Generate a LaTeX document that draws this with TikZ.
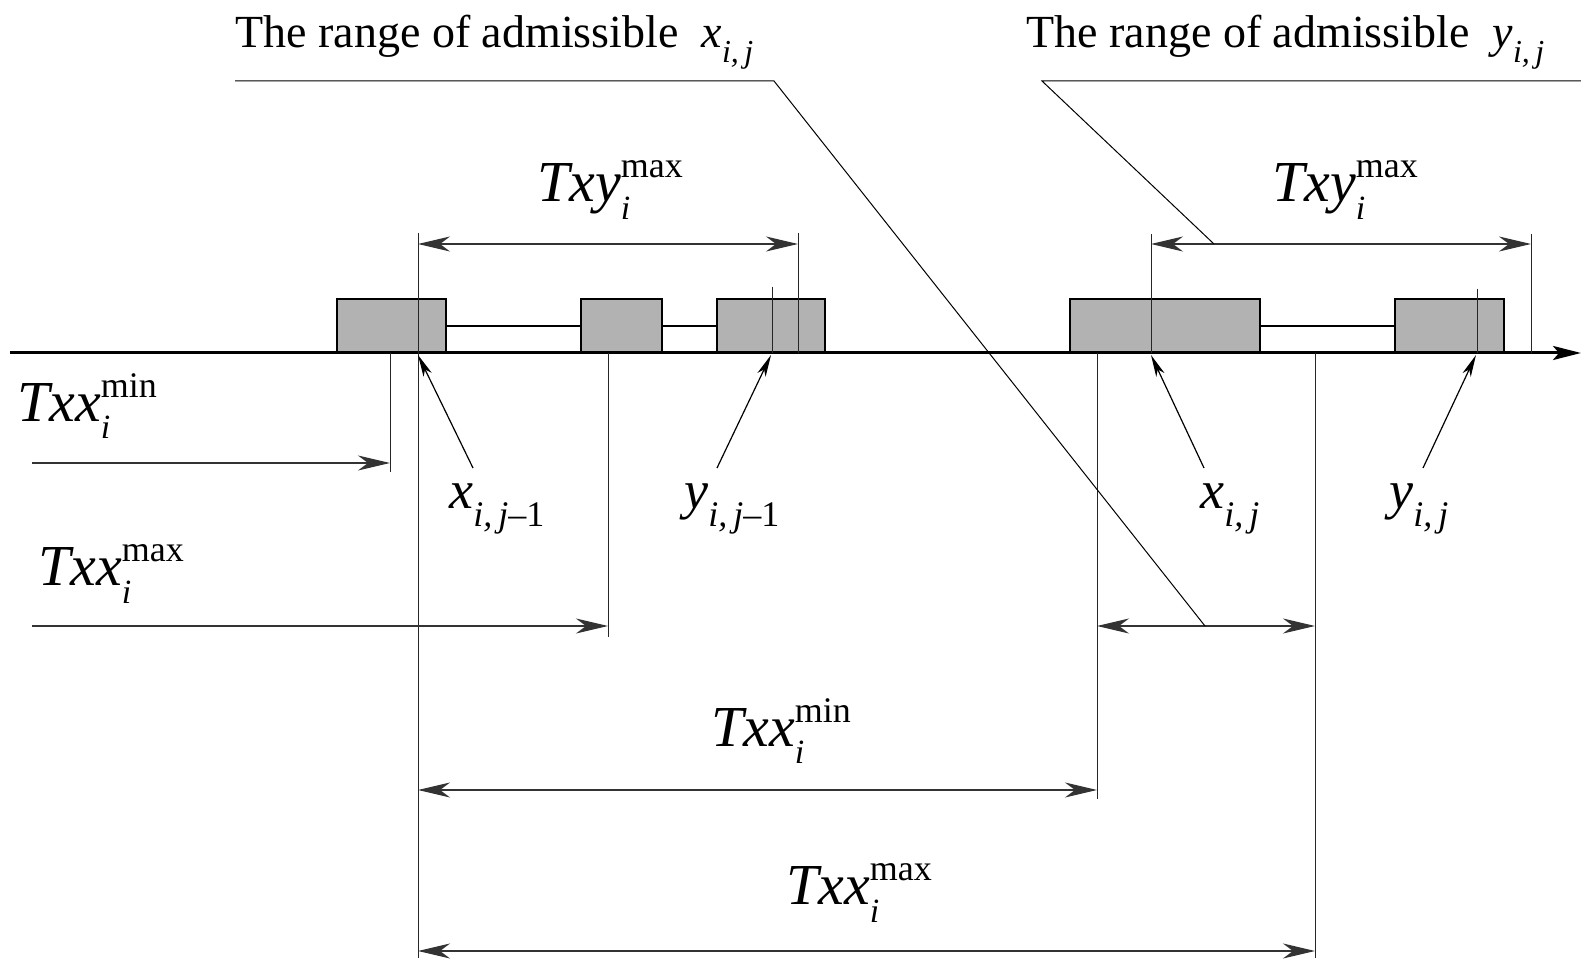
\documentclass[tikz,border=0pt]{standalone}
\usepackage{fontspec}
\setmainfont{Liberation Serif}
\usetikzlibrary{arrows.meta}
\newcommand{\Tsym}[2]{\textit{#1}\rlap{\raisebox{-0.3em}{\fontsize{17}{17}\selectfont\itshape i}}\raisebox{0.42em}{\fontsize{18}{18}\selectfont #2}}
\newcommand{\Psym}[2]{\textit{#1}\raisebox{-0.32em}{\fontsize{18}{18}\selectfont\itshape i,\,j\upshape #2}}
\newcommand{\Rsym}[1]{\textit{#1}\raisebox{-0.32em}{\fontsize{16}{16}\selectfont\itshape i,\,j}}
\begin{document}
\begin{tikzpicture}[x=0.5pt,y=-0.5pt,
  thinln/.style={line width=0.5pt, draw=black!85},
  axisln/.style={line width=1.5pt, -{Stealth[length=14pt,width=7pt,inset=3pt]}},
  blk/.style={draw, line width=1pt, fill=gray!60},
  link/.style={line width=1.1pt},
  dimarr/.style={line width=1pt, draw=black!80, {Stealth[length=16pt,width=7.5pt,inset=5pt]}-{Stealth[length=16pt,width=7.5pt,inset=5pt]}},
  onearr/.style={line width=1pt, draw=black!80, -{Stealth[length=16pt,width=7.5pt,inset=5pt]}},
  ptr/.style={line width=0.6pt, -{Stealth[length=11pt,width=4.5pt,inset=3pt]}},
  lead/.style={line width=0.5pt},
  title/.style={font=\fontsize{23}{28}\selectfont, inner sep=0pt, anchor=base west},
  dlab/.style={font=\fontsize{29}{33}\selectfont, inner sep=0pt},
  plab/.style={font=\fontsize{27}{31}\selectfont, inner sep=0pt, anchor=west},
]
\useasboundingbox (0,0) rectangle (1581,961);
\fill[white] (0,0) rectangle (1581,961);

% titles
\node[title] (tx) at (235,48) {The range of admissible\ \ \Rsym{x}};
\node[title] (ty) at (1026,48) {The range of admissible\ \ \Rsym{y}};

% blocks
\draw[link] (446,326) -- (581,326);
\draw[link] (662,326) -- (717,326);
\draw[link] (1260,326) -- (1395,326);
\node[blk, inner sep=0pt, minimum width=54.5pt, minimum height=27pt] (b1) at (391.5,326) {};
\node[blk, inner sep=0pt, minimum width=40.5pt, minimum height=27pt] (b2) at (621.5,326) {};
\node[blk, inner sep=0pt, minimum width=54pt, minimum height=27pt] (b3) at (771,326) {};
\node[blk, inner sep=0pt, minimum width=95pt, minimum height=27pt] (b4) at (1165,326) {};
\node[blk, inner sep=0pt, minimum width=54.5pt, minimum height=27pt] (b5) at (1449.5,326) {};

% axis
\coordinate (a0) at (10,353);
\coordinate (a1) at (1581,353);
\draw[axisln] (a0) -- (a1);

% extension lines
\draw[thinln] (418,233) -- (418,958);
\draw[thinln] (798,233) -- (798,353);
\draw[thinln] (772,287) -- (772,353);
\draw[thinln] (390,353) -- (390,472);
\draw[thinln] (608,353) -- (608,637);
\draw[thinln] (1151,234) -- (1151,353);
\draw[thinln] (1531,234) -- (1531,353);
\draw[thinln] (1477,289) -- (1477,353);
\draw[thinln] (1097,353) -- (1097,799);
\draw[thinln] (1315,353) -- (1315,958);

% dimension arrows
\coordinate (d1a) at (418,244); \coordinate (d1b) at (798,244);
\coordinate (d2a) at (1151,244); \coordinate (d2b) at (1531,244);
\coordinate (d3a) at (32,463); \coordinate (d3b) at (390,463);
\coordinate (d4a) at (32,626); \coordinate (d4b) at (608,626);
\coordinate (d5a) at (1097,626); \coordinate (d5b) at (1315,626);
\coordinate (d6a) at (418,790); \coordinate (d6b) at (1097,790);
\coordinate (d7a) at (418,951); \coordinate (d7b) at (1315,951);
\draw[dimarr] (d1a) -- (d1b);
\draw[dimarr] (d2a) -- (d2b);
\draw[onearr] (d3a) -- (d3b);
\draw[onearr] (d4a) -- (d4b);
\draw[dimarr] (d5a) -- (d5b);
\draw[dimarr] (d6a) -- (d6b);
\draw[dimarr] (d7a) -- (d7b);

% dimension labels
\node[dlab] (l1) at (610,190) {\Tsym{Txy}{max}};
\node[dlab] (l2) at (1345,190) {\Tsym{Txy}{max}};
\node[dlab] (l3) at (87,406) {\Tsym{Txx}{min}};
\node[dlab] (l4) at (111,574) {\Tsym{Txx}{max}};
\node[dlab] (l5) at (781,731) {\Tsym{Txx}{min}};
\node[dlab] (l6) at (859,893) {\Tsym{Txx}{max}};

% pointer labels and arrows
\node[plab] (px1) at (449,509) {\Psym{x}{--1}};
\node[plab] (py1) at (684,509) {\Psym{y}{--1}};
\node[plab] (px2) at (1200,509) {\Psym{x}{}};
\node[plab] (py2) at (1389,509) {\Psym{y}{}};
\coordinate (t1) at (473,468); \coordinate (h1) at (418,355);
\coordinate (t2) at (717,468); \coordinate (h2) at (771,355);
\coordinate (t3) at (1204,468); \coordinate (h3) at (1151,355);
\coordinate (t4) at (1423,468); \coordinate (h4) at (1476,355);
\draw[ptr] (t1) -- (h1);
\draw[ptr] (t2) -- (h2);
\draw[ptr] (t3) -- (h3);
\draw[ptr] (t4) -- (h4);

% leaders
\coordinate (lx0) at (235,81); \coordinate (lx1) at (774,81); \coordinate (lx2) at (1205,626);
\coordinate (ly0) at (1581,81); \coordinate (ly1) at (1042,81); \coordinate (ly2) at (1214,244);
\draw[lead] (lx0) -- (lx1) -- (lx2);
\draw[lead] (ly0) -- (ly1) -- (ly2);
\end{tikzpicture}
\end{document}
